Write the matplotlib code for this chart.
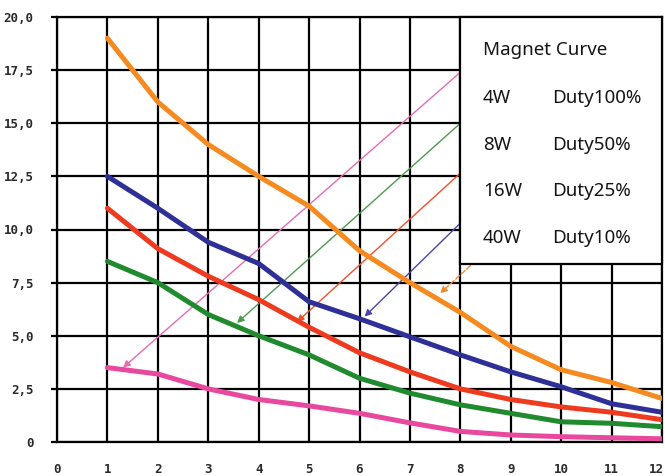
import matplotlib
matplotlib.use("Agg")
import matplotlib.pyplot as plt
from matplotlib.patches import Rectangle
from matplotlib.transforms import ScaledTranslation

# ---- data ----
x = [1, 2, 3, 4, 5, 6, 7, 8, 9, 10, 11, 12]
w4 = [19.0, 16.0, 14.0, 12.5, 11.1, 9.0, 7.5, 6.1, 4.5, 3.4, 2.8, 2.05]
w8 = [12.5, 11.0, 9.4, 8.4, 6.6, 5.8, 4.95, 4.1, 3.3, 2.6, 1.8, 1.4]
w16 = [11.0, 9.1, 7.8, 6.7, 5.4, 4.2, 3.3, 2.5, 2.0, 1.65, 1.4, 1.05]
w40 = [8.5, 7.5, 6.0, 5.0, 4.1, 3.0, 2.3, 1.75, 1.35, 0.95, 0.88, 0.72]
w100 = [3.5, 3.2, 2.5, 2.0, 1.7, 1.35, 0.9, 0.5, 0.33, 0.25, 0.2, 0.15]

xticks = list(range(0, 13))
yticks = [0, 2.5, 5.0, 7.5, 10.0, 12.5, 15.0, 17.5, 20.0]
ytick_labels = ["0", "2,5", "5,0", "7,5", "10,0", "12,5", "15,0", "17,5", "20,0"]

legend_title = "Magnet Curve"
legend_watts = ["4W", "8W", "16W", "40W"]
legend_duty = ["Duty100%", "Duty50%", "Duty25%", "Duty10%"]

# pointer arrows: (start, tip)
arrows = [
    ((8.0, 17.4), (1.31, 3.5), "#e36db0", "solid"),
    ((8.0, 15.0), (3.57, 5.6), "#4f9a50", "solid"),
    ((8.0, 12.65), (4.76, 5.65), "#f0502a", "solid"),
    ((8.0, 10.3), (6.1, 5.9), "#4a45a8", "solid"),
    ((8.2, 8.3), (7.6, 7.0), "#f08a2a", "dashed"),
]

series = [
    (w4, "#f58b20"),
    (w8, "#2f2f98"),
    (w16, "#ee3b1f"),
    (w40, "#1f8a2e"),
    (w100, "#e8489e"),
]

fig = plt.figure(figsize=(6.65, 4.76), dpi=100)
ax = fig.add_axes([57 / 665, 34 / 476, (662 - 57) / 665, (442 - 17) / 476])
ax.set_xlim(0, 12)
ax.set_ylim(0, 20)

ax.set_xticks(xticks)
ax.set_yticks(yticks)
ax.set_yticklabels(ytick_labels)
ax.grid(True, color="black", linewidth=1.6)
ax.set_axisbelow(True)
for s in ax.spines.values():
    s.set_color("black")
    s.set_linewidth(1.6)
ax.tick_params(axis="y", length=4, width=1.6, pad=13, labelsize=9)
ax.tick_params(axis="x", length=0, pad=15, labelsize=9)
for lab in ax.get_xticklabels() + ax.get_yticklabels():
    lab.set_family("DejaVu Sans Mono")
    lab.set_weight("bold")
    lab.set_color("#2a2a2a")
last = ax.get_xticklabels()[-1]
last.set_transform(last.get_transform() + ScaledTranslation(-6 / 100, 0, fig.dpi_scale_trans))

for (sx, sy), (tx, ty), c, ls in arrows:
    ax.annotate("", xy=(tx, ty), xytext=(sx, sy),
                arrowprops=dict(arrowstyle="-|>", color=c, lw=1.0,
                                linestyle=ls, mutation_scale=10,
                                shrinkA=0, shrinkB=0),
                zorder=2)

for ys, c in series:
    ax.plot(x, ys, color=c, linewidth=3.6, solid_capstyle="round",
            solid_joinstyle="round", zorder=4)

box = Rectangle((8, 8.4), 4, 11.6, facecolor="white", edgecolor="black",
                linewidth=1.6, zorder=5, clip_on=False)
ax.add_patch(box)

tfont = dict(family="Noto Sans", fontsize=13.5, color="#151515", zorder=6,
             va="center", ha="left")
ax.text(8.45, 18.45, legend_title, **tfont)
rows_y = [16.2, 14.0, 11.8, 9.6]
for yy, wv, dv in zip(rows_y, legend_watts, legend_duty):
    ax.text(8.45, yy, wv, **tfont)
    ax.text(9.82, yy, dv, **tfont)

fig.savefig("out.png", dpi=100)
